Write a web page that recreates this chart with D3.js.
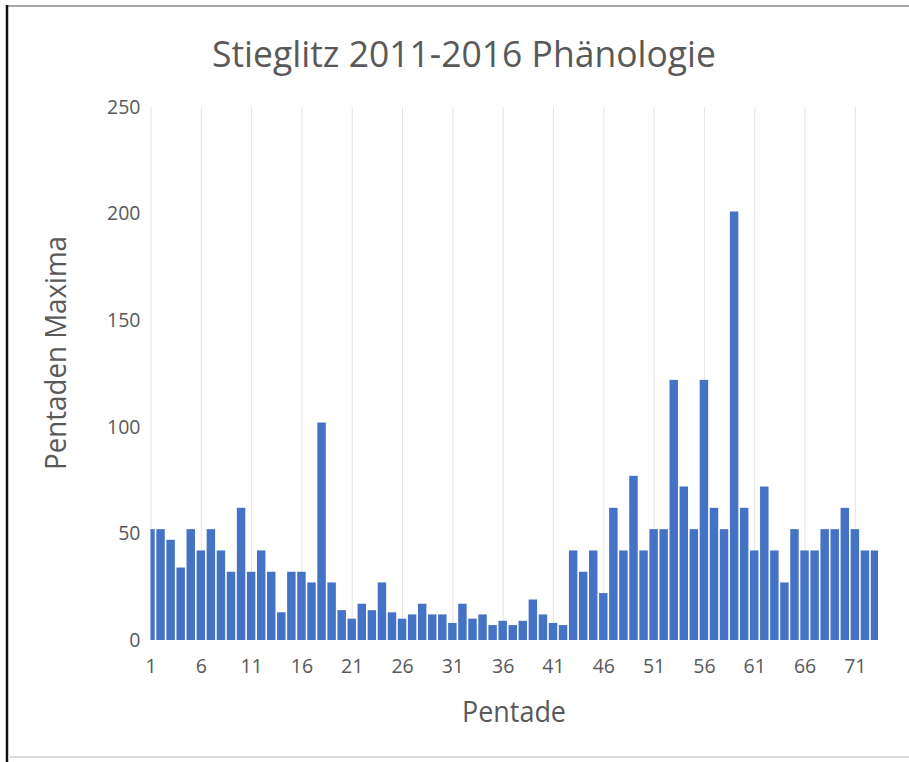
<!DOCTYPE html>
<html>
<head>
<meta charset="utf-8">
<script src="https://cdn.jsdelivr.net/npm/d3@7"></script>
<style>
  body { margin: 0; background: #fff; }
  text { font-family: "Open Sans", sans-serif; fill: #595959; }
</style>
</head>
<body>
<svg id="chart" width="909" height="762"></svg>
<script>
// Pentade 1..73, Maxima je Pentade
var pentades = d3.range(1, 74);
var maxima = [52, 52, 47, 34, 52, 42, 52, 42, 32, 62,
              32, 42, 32, 13, 32, 32, 27, 102, 27, 14,
              10, 17, 14, 27, 13, 10, 12, 17, 12, 12,
              8, 17, 10, 12, 7, 9, 7, 9, 19, 12,
              8, 7, 42, 32, 42, 22, 62, 42, 77, 42,
              52, 52, 122, 72, 52, 122, 62, 52, 201, 62,
              42, 72, 42, 27, 52, 42, 42, 52, 52, 62,
              52, 42, 42];
var xTicks = [1, 6, 11, 16, 21, 26, 31, 36, 41, 46, 51, 56, 61, 66, 71];
var yTicks = [0, 50, 100, 150, 200, 250];

var titleText = 'Stieglitz 2011-2016 Phänologie';
var xTitle = 'Pentade';
var yTitle = 'Pentaden Maxima';

var svg = d3.select('#chart');

// rahmen vom screenshot
svg.append('line').attr('x1', 7).attr('x2', 909).attr('y1', 6).attr('y2', 6)
  .attr('stroke', '#8a8a8a').attr('stroke-width', 1.5);
svg.append('line').attr('x1', 7).attr('x2', 7).attr('y1', 5).attr('y2', 762)
  .attr('stroke', '#111').attr('stroke-width', 2.5);
svg.append('line').attr('x1', 8).attr('x2', 909).attr('y1', 757).attr('y2', 757)
  .attr('stroke', '#dcdcdc').attr('stroke-width', 2);

var plotL = 150.5, plotR = 878, plotT = 107, plotB = 640;

var x = d3.scaleLinear().domain([1, 73.3]).range([plotL, plotR]);
var y = d3.scaleLinear().domain([0, 250]).range([plotB, plotT]);
var step = x(2) - x(1);
var bw = step * 0.84;

// vertikale gitterlinien
svg.append('g')
  .attr('transform', 'translate(0,' + plotB + ')')
  .call(d3.axisBottom(x).tickValues(xTicks).tickSize(-(plotB - plotT)).tickFormat(''))
  .call(g => g.select('.domain').remove())
  .call(g => g.selectAll('line').attr('stroke', '#e4e4e4').attr('stroke-width', 1));

svg.append('clipPath').attr('id', 'plot')
  .append('rect').attr('x', plotL).attr('y', 0).attr('width', plotR - plotL).attr('height', plotB);

svg.append('g').attr('clip-path', 'url(#plot)')
  .selectAll('rect')
  .data(pentades)
  .enter().append('rect')
  .attr('x', d => x(d) - bw / 2)
  .attr('width', bw)
  .attr('y', (d, i) => y(maxima[i]))
  .attr('height', (d, i) => plotB - y(maxima[i]))
  .attr('fill', '#4472c4');

// achsenbeschriftung
svg.append('g')
  .attr('transform', 'translate(0,' + plotB + ')')
  .call(d3.axisBottom(x).tickValues(xTicks).tickSize(0).tickPadding(19))
  .call(g => g.select('.domain').remove())
  .selectAll('text').style('font-size', '19.5px');

svg.append('g')
  .attr('transform', 'translate(' + plotL + ',0)')
  .call(d3.axisLeft(y).tickValues(yTicks).tickSize(0).tickPadding(10))
  .call(g => g.select('.domain').remove())
  .selectAll('text').style('font-size', '19.5px');

svg.append('text')
  .attr('x', 464).attr('y', 67)
  .attr('text-anchor', 'middle')
  .attr('textLength', 504).attr('lengthAdjust', 'spacingAndGlyphs')
  .style('font-size', '37px')
  .text(titleText);

svg.append('text')
  .attr('x', 514).attr('y', 722)
  .attr('text-anchor', 'middle')
  .attr('textLength', 104).attr('lengthAdjust', 'spacingAndGlyphs')
  .style('font-size', '29px')
  .text(xTitle);

svg.append('text')
  .attr('transform', 'translate(66,353) rotate(-90)')
  .attr('text-anchor', 'middle')
  .attr('textLength', 234).attr('lengthAdjust', 'spacingAndGlyphs')
  .style('font-size', '29px')
  .text(yTitle);
</script>
</body>
</html>
